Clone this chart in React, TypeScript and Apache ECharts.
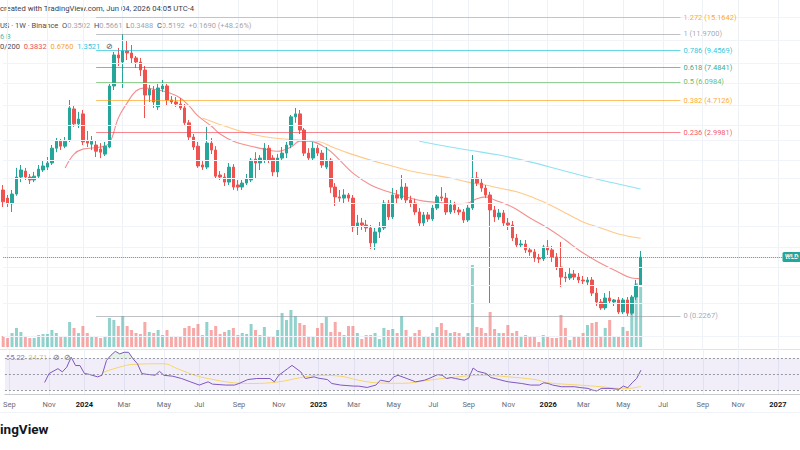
import React, { useEffect, useRef } from 'react';
import * as echarts from 'echarts';

// ---------- DATA ----------
const FIRST_WEEK = Date.UTC(2023, 7, 28); // Monday of first weekly bar
const WEEK_COUNT = 181; // includes empty future weeks
const weeks: string[] = Array.from({ length: WEEK_COUNT }, (_, k) =>
  new Date(FIRST_WEEK + k * 7 * 86400000).toISOString().slice(0, 10)
);
const MONTHS = ['Jan', 'Feb', 'Mar', 'Apr', 'May', 'Jun', 'Jul', 'Aug', 'Sep', 'Oct', 'Nov', 'Dec'];

// weekly candles: [open, close, low, high]
const candles: number[][] = [
  [1.334, 1.13, 1.05, 1.431], [1.19, 1.11, 1.05, 1.243], [1.10, 1.26, 0.979, 1.334], [1.26, 1.60, 1.23, 1.82],
  [1.60, 1.767, 1.49, 1.896], [1.74, 1.60, 1.535, 1.82], [1.60, 1.535, 1.45, 1.67], [1.535, 1.62, 1.49, 1.72],
  [1.62, 1.79, 1.58, 1.896], [1.767, 1.87, 1.72, 2.03], [1.84, 1.95, 1.767, 2.12], [1.95, 2.40, 1.896, 2.51],
  [2.40, 2.65, 2.27, 2.77], [2.65, 2.47, 2.34, 2.73], [2.47, 2.65, 2.40, 2.81], [2.69, 4.23, 2.62, 4.73],
  [4.17, 3.38, 3.24, 4.35], [3.38, 3.62, 3.19, 4.00], [3.89, 2.62, 2.51, 4.11], [2.65, 2.58, 2.44, 3.06],
  [2.54, 2.65, 2.34, 2.85], [2.51, 2.30, 2.12, 2.69], [2.37, 2.27, 2.09, 2.58], [2.21, 2.47, 2.15, 2.62],
  [2.44, 5.76, 2.40, 5.92], [5.76, 8.91, 5.44, 9.29], [8.91, 8.54, 7.63, 9.83], [8.07, 9.42, 5.60, 11.97],
  [9.42, 9.16, 8.30, 11.00], [9.16, 8.54, 7.85, 10.25], [8.54, 8.07, 7.42, 8.78], [8.07, 7.21, 6.63, 8.54],
  [7.21, 5.07, 3.67, 7.63], [5.07, 5.52, 4.60, 5.84], [5.44, 4.60, 4.23, 5.76], [4.29, 5.60, 4.11, 6.01],
  [5.52, 5.76, 5.29, 6.27], [5.76, 4.73, 4.35, 6.01], [4.73, 4.60, 4.47, 5.00], [4.60, 4.47, 4.29, 4.93],
  [4.47, 4.23, 4.11, 4.86], [4.23, 3.43, 3.28, 4.47], [3.43, 2.81, 2.69, 3.57], [2.81, 2.44, 2.34, 2.93],
  [2.47, 1.87, 1.82, 2.62], [1.896, 1.84, 1.767, 2.03], [1.84, 2.58, 1.79, 3.24], [2.58, 2.34, 2.21, 2.77],
  [2.34, 1.62, 1.56, 2.47], [1.647, 1.60, 1.535, 1.74], [1.60, 1.49, 1.41, 1.69], [1.49, 1.84, 1.431, 1.95],
  [1.84, 1.39, 1.334, 1.92], [1.431, 1.39, 1.32, 1.535], [1.39, 1.47, 1.334, 1.535], [1.47, 1.56, 1.431, 1.67],
  [1.535, 2.03, 1.49, 2.09], [2.06, 1.95, 1.56, 2.27], [1.95, 2.09, 1.767, 2.18], [2.03, 2.40, 1.95, 2.58],
  [2.40, 2.03, 1.95, 2.51], [2.09, 1.72, 1.62, 2.18], [1.72, 2.09, 1.60, 2.21], [2.09, 2.24, 2.03, 2.44],
  [2.24, 2.51, 2.09, 2.62], [2.51, 3.73, 2.40, 3.83], [3.73, 3.89, 3.43, 4.23], [3.89, 3.10, 2.93, 4.11],
  [3.10, 2.24, 2.15, 3.19], [2.24, 2.09, 2.03, 2.40], [2.09, 2.40, 2.03, 2.62], [2.40, 2.24, 2.15, 2.51],
  [2.24, 1.896, 1.82, 2.34], [1.84, 2.03, 1.79, 2.44], [2.03, 1.39, 1.28, 2.09], [1.39, 1.21, 1.065, 1.47],
  [1.21, 1.19, 1.13, 1.334], [1.19, 1.243, 1.11, 1.35], [1.243, 1.19, 1.13, 1.28], [1.19, 0.793, 0.739, 1.243],
  [0.793, 0.839, 0.708, 0.939], [0.839, 0.815, 0.760, 0.900], [0.815, 0.782, 0.739, 0.875], [0.782, 0.633, 0.582, 0.815],
  [0.633, 0.739, 0.574, 0.782], [0.739, 0.782, 0.679, 0.851], [0.782, 1.11, 0.760, 1.159], [1.11, 0.913, 0.875, 1.159],
  [0.913, 1.243, 0.887, 1.37], [1.243, 1.19, 1.11, 1.334], [1.19, 1.39, 1.159, 1.647], [1.39, 1.159, 1.11, 1.47],
  [1.159, 1.11, 1.050, 1.23], [1.11, 0.979, 0.939, 1.18], [0.979, 0.839, 0.793, 1.035], [0.839, 0.939, 0.804, 0.979],
  [0.939, 0.887, 0.851, 0.979], [0.887, 1.035, 0.863, 1.080], [1.035, 1.21, 1.007, 1.243], [1.21, 1.19, 1.14, 1.39],
  [1.19, 0.979, 0.939, 1.28], [0.979, 1.080, 0.952, 1.159], [1.080, 1.007, 0.965, 1.13], [1.007, 0.979, 0.939, 1.050],
  [0.979, 0.875, 0.839, 1.021], [0.875, 1.035, 0.851, 1.080], [1.035, 1.58, 1.007, 2.18], [1.58, 1.47, 1.41, 1.72],
  [1.47, 1.37, 1.30, 1.58], [1.37, 1.243, 1.19, 1.431], [1.243, 1.007, 0.272, 1.30], [1.007, 0.913, 0.851, 1.065],
  [0.913, 0.965, 0.875, 1.021], [0.965, 0.839, 0.804, 1.007], [0.839, 0.815, 0.760, 0.900], [0.815, 0.679, 0.651, 0.863],
  [0.679, 0.616, 0.590, 0.718], [0.616, 0.624, 0.590, 0.660], [0.624, 0.574, 0.550, 0.660], [0.574, 0.558, 0.528, 0.599],
  [0.558, 0.513, 0.485, 0.582], [0.513, 0.506, 0.478, 0.543], [0.506, 0.599, 0.491, 0.616], [0.599, 0.574, 0.535, 0.660],
  [0.574, 0.520, 0.485, 0.607], [0.520, 0.451, 0.433, 0.550], [0.451, 0.392, 0.341, 0.642], [0.392, 0.387, 0.365, 0.421],
  [0.387, 0.409, 0.376, 0.445], [0.409, 0.392, 0.376, 0.433], [0.392, 0.376, 0.360, 0.415], [0.376, 0.371, 0.355, 0.398],
  [0.365, 0.376, 0.350, 0.392], [0.376, 0.313, 0.300, 0.392], [0.313, 0.276, 0.261, 0.336], [0.276, 0.254, 0.247, 0.288],
  [0.254, 0.292, 0.247, 0.313], [0.292, 0.280, 0.272, 0.322], [0.276, 0.284, 0.261, 0.288], [0.284, 0.240, 0.233, 0.296],
  [0.240, 0.284, 0.233, 0.292], [0.284, 0.236, 0.2267, 0.296], [0.236, 0.296, 0.230, 0.304], [0.296, 0.350, 0.284, 0.376],
  [0.3502, 0.5192, 0.3488, 0.5661],
];

// weekly volume, millions
const volumes: number[] = [
  220, 180, 280, 380, 300, 220, 180, 180, 240, 260, 260, 340, 280, 220, 220, 500, 380, 280, 420, 280,
  200, 220, 180, 220, 580, 540, 420, 620, 420, 340, 280, 260, 500, 300, 280, 340, 240, 340, 220, 200,
  220, 380, 420, 380, 460, 240, 500, 340, 420, 260, 300, 340, 380, 240, 280, 260, 460, 340, 240, 400,
  200, 200, 340, 680, 540, 740, 620, 480, 440, 220, 220, 380, 480, 600, 300, 500, 300, 240, 420, 420,
  280, 160, 240, 240, 280, 160, 380, 340, 360, 280, 620, 340, 220, 280, 340, 200, 200, 280, 400, 480,
  340, 280, 300, 280, 200, 280, 1640, 400, 380, 280, 700, 360, 280, 280, 440, 280, 320, 200, 240, 220,
  200, 100, 240, 200, 180, 180, 640, 380, 140, 200, 220, 280, 440, 480, 500, 200, 380, 540, 200, 200,
  400, 320, 1000, 1280, 1200,
];

// moving averages read at sample weeks: [weekIndex, price]
const ema20: number[][] = [
  [14, 1.82], [16, 2.21], [18, 2.37], [22, 2.44], [24, 2.58], [26, 3.67], [28, 4.54], [30, 5.37], [32, 5.60],
  [35, 5.44], [37, 5.29], [40, 4.86], [42, 4.35], [44, 3.78], [47, 3.28], [49, 2.93], [52, 2.65], [56, 2.47],
  [59, 2.37], [62, 2.30], [65, 2.44], [67, 2.65], [69, 2.65], [73, 2.40], [76, 2.03], [79, 1.69], [83, 1.431],
  [87, 1.30], [91, 1.21], [95, 1.14], [100, 1.11], [103, 1.10], [105, 1.11], [107, 1.18], [109, 1.21], [111, 1.159],
  [115, 1.05], [119, 0.90], [123, 0.782], [127, 0.66], [130, 0.574], [134, 0.491], [138, 0.433], [142, 0.387], [144, 0.3832],
];
const ema50: number[][] = [
  [45, 3.67], [50, 3.28], [56, 2.93], [61, 2.77], [67, 2.69], [71, 2.65], [75, 2.40], [78, 2.24], [83, 2.03],
  [87, 1.896], [92, 1.74], [97, 1.647], [101, 1.58], [105, 1.49], [109, 1.431], [112, 1.37], [116, 1.30], [120, 1.19],
  [123, 1.10], [127, 0.965], [131, 0.851], [135, 0.782], [139, 0.718], [144, 0.676],
];
const ema100: number[][] = [
  [94, 2.65], [101, 2.44], [105, 2.34], [112, 2.18], [119, 1.98], [126, 1.767], [132, 1.60], [138, 1.47], [144, 1.3521],
];

// RSI(14) and its moving average: [weekIndex, value]
const rsi: number[][] = [
  [9, 39.6], [10, 50.9], [12, 57.1], [13, 53], [14, 59], [15, 71.6], [16, 61], [17, 61], [18, 51], [19, 50],
  [21, 46.7], [22, 48.8], [23, 67.5], [24, 74], [25, 79], [26, 75.8], [27, 77.8], [28, 77.8], [29, 69.6], [30, 63.3],
  [31, 50.9], [32, 50], [34, 48.8], [35, 53.7], [36, 48.7], [38, 47.5], [40, 44.6], [42, 40.4], [44, 36.3], [46, 40.4],
  [47, 37.5], [50, 36.3], [52, 36.3], [53, 38.3], [55, 43.3], [57, 44.6], [60, 44.6], [61, 40.4], [62, 48.7], [64, 57.1],
  [65, 61.2], [67, 52.9], [68, 44.6], [70, 46.7], [71, 45], [73, 43.3], [74, 38.3], [76, 36.3], [79, 35], [80, 35],
  [82, 33.3], [84, 36.3], [85, 42.5], [87, 40.4], [88, 46.6], [89, 48.7], [91, 44.6], [93, 40.4], [95, 42.5], [96, 44.6],
  [98, 49.6], [99, 48.7], [100, 44.6], [101, 45.8], [102, 44.6], [104, 42.5], [105, 45], [106, 57.9], [107, 53.7], [109, 50.9],
  [110, 45.8], [111, 44.6], [113, 41.6], [114, 40.4], [117, 38.3], [119, 36.3], [121, 36.3], [122, 39.2], [123, 38.3], [124, 36.3],
  [126, 34.2], [127, 34.2], [129, 34.2], [130, 33.3], [132, 32.1], [133, 30], [134, 28.8], [135, 32.1], [137, 32.1], [139, 30.9],
  [140, 35], [141, 32.9], [142, 39.2], [143, 44.6], [144, 55.22],
];
const rsiMa: number[][] = [
  [22, 52.1], [26, 59.1], [29, 62.5], [36, 63.3], [39, 57.1], [43, 48.7], [46, 44.6], [52, 39.1], [56, 38.3], [62, 40.4],
  [67, 45.8], [71, 48.7], [76, 47.5], [80, 42.5], [84, 39.2], [90, 38.5], [96, 42.5], [101, 45.8], [108, 48.7], [114, 46.7],
  [120, 43.3], [123, 39.2], [130, 36.3], [135, 34.2], [139, 32.1], [141, 32.1], [144, 34.71],
];
const rsiOverbought: number[][] = [[23, 70], [24, 74], [25, 79], [26, 75.8], [27, 77.8], [28, 77.8], [29, 70]];

// Fibonacci retracement levels
const fibRatios = [0, 0.236, 0.382, 0.5, 0.618, 0.786, 1, 1.272];
const fibPrices = [0.2267, 2.9981, 4.7126, 6.0984, 7.4841, 9.4569, 11.97, 15.1642];
const fibColors = ['#9598a1', '#f23645', '#ff9800', '#4caf50', '#089981', '#00bcd4', '#9598a1', '#ff9800'];
const FIB_START = 21;
const FIB_END = 153;

// horizontal price grid levels (log price scale)
const priceGrid = [15.2, 11.0, 7.96, 6.01, 4.41, 3.33, 2.69, 2.03, 1.58, 1.11, 0.804, 0.599, 0.451, 0.35, 0.272, 0.165];

const LAST_CLOSE = 0.5192;

// ---------- STYLE ----------
const UP = '#26a69a';
const DOWN = '#ef5350';
const FONT = 'Roboto, "Liberation Sans", sans-serif';
const GRID_LEFT = 3.2;
const GRID_WIDTH = 797.4;

function isTickWeek(_idx: number, value: string): boolean {
  const d = new Date(value + 'T00:00:00Z');
  return d.getUTCDate() <= 7 && d.getUTCMonth() % 2 === 0;
}

export default function App() {
  const ref = useRef<HTMLDivElement>(null);

  useEffect(() => {
    if (!ref.current) return;
    const chart = echarts.init(ref.current, null, { renderer: 'svg' });

    const splitLine = {
      show: true,
      interval: isTickWeek,
      lineStyle: { color: '#eef1f6', width: 1 },
    };

    const xBase = (gridIndex: number, showLabels: boolean, showSplit: boolean) => ({
      type: 'category' as const,
      gridIndex,
      data: weeks,
      boundaryGap: false,
      axisLine: showLabels
        ? { show: true, lineStyle: { color: '#c8cbd2', width: 1 } }
        : { show: false },
      axisTick: { show: false },
      splitLine: showSplit ? splitLine : { show: false },
      axisLabel: showLabels
        ? {
            show: true,
            interval: isTickWeek,
            margin: 6,
            fontSize: 7.5,
            fontFamily: FONT,
            color: '#6a6d78',
            formatter: (value: string) => {
              const d = new Date(value + 'T00:00:00Z');
              const m = d.getUTCMonth();
              return m === 0 ? `{y|${d.getUTCFullYear()}}` : MONTHS[m];
            },
            rich: { y: { fontWeight: 'bold', color: '#131722', fontSize: 7.5, fontFamily: FONT } },
          }
        : { show: false },
    });

    const fibLines = fibPrices.map((p, k) => [
      {
        coord: [FIB_START, p],
        lineStyle: { color: fibColors[k], width: 1, type: 'solid', opacity: 0.6 },
        label: {
          show: true,
          position: 'end',
          distance: 3,
          formatter: `${fibRatios[k]} (${p.toFixed(4)})`,
          color: fibColors[k],
          opacity: 0.85,
          fontSize: 7.5,
          fontFamily: FONT,
        },
      },
      { coord: [FIB_END, p] },
    ]);

    chart.setOption({
      animation: false,
      backgroundColor: '#ffffff',
      grid: [
        { left: GRID_LEFT, top: 0, width: GRID_WIDTH, height: 350 },
        { left: GRID_LEFT, top: 197, width: GRID_WIDTH, height: 150 },
        { left: GRID_LEFT, top: 350, width: GRID_WIDTH, height: 44 },
      ],
      xAxis: [xBase(0, false, true), xBase(1, false, false), xBase(2, true, true)],
      yAxis: [
        { type: 'log', logBase: 10, gridIndex: 0, min: 0.1405, max: 19.3, show: false, splitLine: { show: false } },
        { type: 'value', gridIndex: 1, min: 0, max: 3000, show: false, splitLine: { show: false } },
        { type: 'value', gridIndex: 2, min: 25, max: 80.7, show: false, splitLine: { show: false } },
      ],
      series: [
        {
          name: 'Grid',
          type: 'line',
          xAxisIndex: 0,
          yAxisIndex: 0,
          data: [],
          z: 0,
          markLine: {
            silent: true,
            symbol: ['none', 'none'],
            label: { show: false },
            lineStyle: { color: '#f0f3fa', type: 'solid', width: 1 },
            data: priceGrid.map((p) => ({ yAxis: p })),
          },
        },
        {
          name: 'Volume',
          type: 'bar',
          xAxisIndex: 1,
          yAxisIndex: 1,
          barWidth: 3,
          z: 1,
          data: volumes.map((v, i) => ({
            value: v,
            itemStyle: {
              color: candles[i][1] >= candles[i][0] ? 'rgba(38,166,154,0.5)' : 'rgba(239,83,80,0.5)',
            },
          })),
        },
        {
          name: 'EMA 20',
          type: 'line',
          xAxisIndex: 0,
          yAxisIndex: 0,
          data: ema20,
          smooth: 0.4,
          showSymbol: false,
          z: 2,
          lineStyle: { color: '#f48f8f', width: 1.1 },
        },
        {
          name: 'EMA 50',
          type: 'line',
          xAxisIndex: 0,
          yAxisIndex: 0,
          data: ema50,
          smooth: 0.4,
          showSymbol: false,
          z: 2,
          lineStyle: { color: '#ffc98a', width: 1.1 },
        },
        {
          name: 'EMA 100',
          type: 'line',
          xAxisIndex: 0,
          yAxisIndex: 0,
          data: ema100,
          smooth: 0.4,
          showSymbol: false,
          z: 2,
          lineStyle: { color: '#8fe3ef', width: 1.1 },
        },
        {
          name: 'WLDUSDT',
          type: 'candlestick',
          xAxisIndex: 0,
          yAxisIndex: 0,
          barWidth: 3,
          z: 3,
          data: candles,
          itemStyle: { color: UP, color0: DOWN, borderColor: UP, borderColor0: DOWN, borderWidth: 1 },
          markLine: {
            silent: true,
            symbol: ['none', 'none'],
            animation: false,
            data: [
              ...fibLines,
              {
                yAxis: LAST_CLOSE,
                lineStyle: { color: UP, type: 'dotted', width: 1 },
                label: { show: false },
              },
            ],
          },
        },
        {
          name: 'RSI overbought',
          type: 'line',
          xAxisIndex: 2,
          yAxisIndex: 2,
          data: rsiOverbought,
          showSymbol: false,
          lineStyle: { width: 0 },
          areaStyle: { origin: 70, color: 'rgba(76,175,80,0.22)' },
          z: 1,
        },
        {
          name: 'RSI',
          type: 'line',
          xAxisIndex: 2,
          yAxisIndex: 2,
          data: rsi,
          showSymbol: false,
          lineStyle: { color: '#7e57c2', width: 1 },
          z: 3,
          markArea: {
            silent: true,
            itemStyle: { color: 'rgba(126,87,194,0.1)' },
            data: [[{ yAxis: 30 }, { yAxis: 70 }]],
          },
          markLine: {
            silent: true,
            symbol: ['none', 'none'],
            label: { show: false },
            lineStyle: { color: '#9598a1', type: [2, 2], width: 1 },
            data: [{ yAxis: 70 }, { yAxis: 50 }, { yAxis: 30 }],
          },
        },
        {
          name: 'RSI MA',
          type: 'line',
          xAxisIndex: 2,
          yAxisIndex: 2,
          data: rsiMa,
          smooth: 0.4,
          showSymbol: false,
          lineStyle: { color: '#f5d66b', width: 1 },
          z: 2,
        },
      ],
      graphic: [
        { type: 'line', shape: { x1: 0, y1: 349.5, x2: 800, y2: 349.5 }, style: { stroke: '#e0e3eb', lineWidth: 1 }, silent: true },
        { type: 'line', shape: { x1: 0, y1: 412.5, x2: 800, y2: 412.5 }, style: { stroke: '#f0f3fa', lineWidth: 1 }, silent: true },
        {
          type: 'text', left: 0, top: 4,
          style: { text: 'created with TradingView.com, Jun 04, 2026 04:05 UTC-4', fill: '#3b3e48', fontSize: 7.7, fontFamily: FONT },
        },
        {
          type: 'text', x: 0, y: 21,
          style: {
            text: '{t|US · 1W · Binance}  {k|O}{v|0.3502}  {k|H}{v|0.5661}  {k|L}{v|0.3488}  {k|C}{v|0.5192}  {v|+0.1690 (+48.26%)}',
            fontSize: 7.5, fontFamily: FONT,
            rich: {
              t: { fill: '#4a4d57', fontSize: 7.5, fontFamily: FONT },
              k: { fill: '#4a4d57', fontSize: 7.5, fontFamily: FONT },
              v: { fill: '#a3a6af', fontSize: 7.5, fontFamily: FONT },
            },
          },
        },
        { type: 'text', x: 0, y: 32, style: { text: '6 B', fill: '#4fb9ad', fontSize: 7.5, fontFamily: FONT } },
        {
          type: 'text', x: 0, y: 42,
          style: {
            text: '{g|0/200}  {r|0.3832}  {o|0.6760}  {c|1.3521}   {g|⊘}',
            fontSize: 7.5, fontFamily: FONT,
            rich: {
              g: { fill: '#4a4d57', fontSize: 7.5, fontFamily: FONT },
              r: { fill: '#e8505b', fontSize: 7.5, fontFamily: FONT },
              o: { fill: '#f5a623', fontSize: 7.5, fontFamily: FONT },
              c: { fill: '#2ec4e0', fontSize: 7.5, fontFamily: FONT },
            },
          },
        },
        {
          type: 'text', x: 6, y: 353,
          style: {
            text: '{p|55.22}  {y|34.71}   {g|⊘}  {g|⊘}',
            fontSize: 7.5, fontFamily: FONT,
            rich: {
              p: { fill: '#9575cd', fontSize: 7.5, fontFamily: FONT },
              y: { fill: '#e9c84f', fontSize: 7.5, fontFamily: FONT },
              g: { fill: '#6a6d78', fontSize: 7.5, fontFamily: FONT },
            },
          },
        },
        {
          type: 'rect', shape: { x: 782.5, y: 252, width: 30, height: 10, r: 1.5 },
          style: { fill: UP }, silent: true,
        },
        { type: 'text', x: 785, y: 253.5, style: { text: 'WLD', fill: '#ffffff', fontSize: 6.5, fontFamily: FONT, fontWeight: 'bold' } },
        { type: 'text', x: 0, y: 422, style: { text: 'ingView', fill: '#131722', fontSize: 13.5, fontWeight: 'bold', fontFamily: FONT } },
      ],
    });

    return () => chart.dispose();
  }, []);

  return (
    <div
      ref={ref}
      style={{ position: 'fixed', left: 0, top: 0, width: 800, height: 450, background: '#fff' }}
    />
  );
}
